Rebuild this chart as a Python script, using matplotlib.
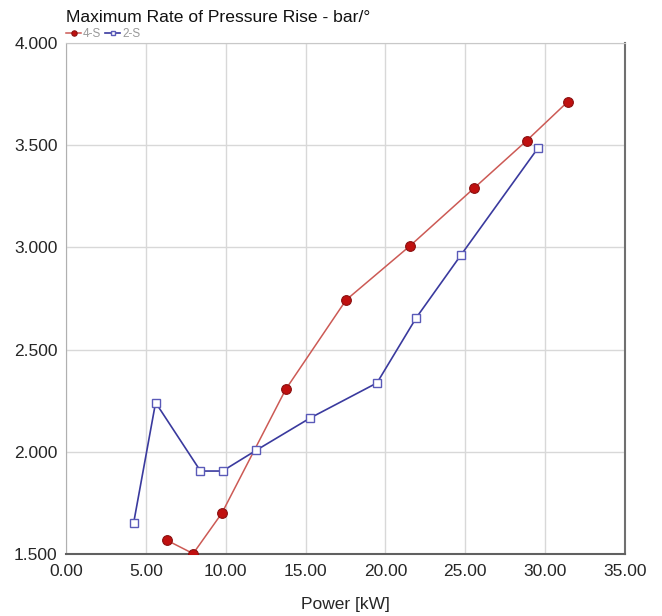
import matplotlib
matplotlib.use("Agg")
import matplotlib.pyplot as plt
from matplotlib.ticker import FormatStrFormatter, MultipleLocator

plt.rcParams['font.family'] = ['Liberation Sans', 'DejaVu Sans']

power_4s = [6.30, 7.96, 9.76, 13.76, 17.54, 21.56, 25.55, 28.84, 31.42]
rate_4s = [1.568, 1.502, 1.700, 2.306, 2.743, 3.009, 3.290, 3.522, 3.713]

power_2s = [4.23, 5.61, 8.42, 9.80, 11.92, 15.30, 19.47, 21.94, 24.75, 29.57]
rate_2s = [1.650, 2.241, 1.906, 1.906, 2.008, 2.166, 2.337, 2.657, 2.965, 3.488]

title = "Maximum Rate of Pressure Rise - bar/°"
xlabel = "Power [kW]"
labels = ["4-S", "2-S"]

fig = plt.figure(figsize=(6.62, 6.16), dpi=100)
ax = fig.add_axes([0.0997, 0.1006, 0.8444, 0.8296])

ax.plot(power_4s, rate_4s, color="#cc5a55", lw=1.1, marker="o", ms=7,
        markerfacecolor="#c0100f", markeredgecolor="#8a1010", markeredgewidth=0.8,
        label=labels[0], zorder=3)
ax.plot(power_2s, rate_2s, color="#3a3a9e", lw=1.2, marker="s", ms=6.2,
        markerfacecolor="white", markeredgecolor="#5a5ab8", markeredgewidth=1.0,
        label=labels[1], zorder=3)

ax.set_xlim(0, 35)
ax.set_ylim(1.5, 4.0)
ax.xaxis.set_major_locator(MultipleLocator(5))
ax.yaxis.set_major_locator(MultipleLocator(0.5))
ax.xaxis.set_major_formatter(FormatStrFormatter("%.2f"))
ax.yaxis.set_major_formatter(FormatStrFormatter("%.3f"))
ax.grid(True, color="#d8d8d8", lw=1.0)
ax.set_axisbelow(True)
ax.tick_params(length=0, labelsize=12.5, colors="#262626")
ax.tick_params(axis='x', pad=7)
ax.tick_params(axis='y', pad=6)
for lbl in ax.get_yticklabels():
    lbl.set_va("center_baseline")

ax.spines['left'].set_color("#b0b0b0")
ax.spines['top'].set_color("#c8c8c8")
ax.spines['right'].set_color("#707070")
ax.spines['right'].set_linewidth(1.5)
ax.spines['bottom'].set_color("#606060")
ax.spines['bottom'].set_linewidth(1.5)

ax.set_xlabel(xlabel, fontsize=12.5, color="#262626", labelpad=13)
fig.text(0.100, 0.972, title, fontsize=12.6, color="#111111", ha="left", va="center")

leg = ax.legend(loc="lower left", bbox_to_anchor=(0.0, 1.006), ncol=2,
                frameon=False, fontsize=8.5, handlelength=1.3, handletextpad=0.15,
                columnspacing=0.3, borderpad=0, borderaxespad=0, markerscale=0.55)
for t in leg.get_texts():
    t.set_color("#999999")

fig.savefig("out.png", dpi=100, facecolor="white")
